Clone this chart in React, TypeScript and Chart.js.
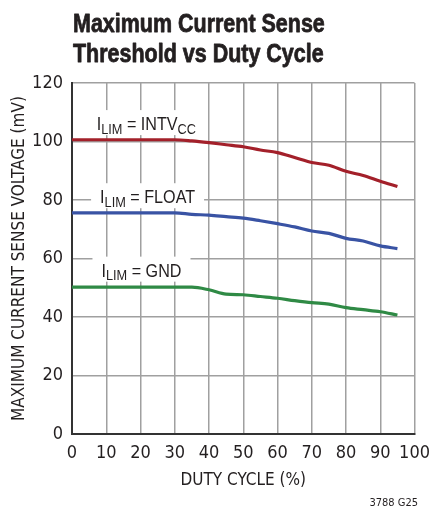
import React, { useEffect, useRef } from "react";
import { Chart, registerables } from "chart.js";

Chart.register(...registerables);

const AXIS_FONT = "'DejaVu Sans Condensed', 'Liberation Sans', sans-serif";
const TEXT_FONT = "'Liberation Sans', Arial, sans-serif";

const TITLE_LINES = ["Maximum Current Sense", "Threshold vs Duty Cycle"];
const X_TITLE = "DUTY CYCLE (%)";
const Y_TITLE = "MAXIMUM CURRENT SENSE VOLTAGE (mV)";
const FOOTNOTE = "3788 G25";

const X_TICKS = [0, 10, 20, 30, 40, 50, 60, 70, 80, 90, 100];
const Y_TICKS = [0, 20, 40, 60, 80, 100, 120];

const INTVCC_X = [0, 10, 20, 30, 35, 40, 45, 50, 55, 60, 65, 70, 75, 80, 85, 90, 95];
const INTVCC_Y = [100.6, 100.6, 100.6, 100.6, 100.2, 99.6, 98.9, 98.2, 97.1, 96.2, 94.5, 92.8, 91.9, 89.8, 88.4, 86.4, 84.6];

const FLOAT_X = [0, 10, 20, 30, 35, 40, 45, 50, 55, 60, 65, 70, 75, 80, 85, 90, 95];
const FLOAT_Y = [75.6, 75.6, 75.6, 75.6, 75.1, 74.8, 74.3, 73.8, 72.9, 71.9, 70.8, 69.4, 68.6, 66.9, 66.0, 64.3, 63.4];

const GND_X = [0, 10, 20, 30, 35, 40, 45, 50, 55, 60, 65, 70, 75, 80, 85, 90, 95];
const GND_Y = [50.2, 50.2, 50.2, 50.2, 50.2, 49.3, 47.8, 47.6, 47.0, 46.4, 45.6, 44.9, 44.4, 43.2, 42.5, 41.8, 40.7];

// label parts: [text, isSubscript], anchored at data (x, y baseline)
const LABELS = [
  { parts: [["I", false], ["LIM", true], [" = INTV", false], ["CC", true]], x: 7.2, y: 103.9 },
  { parts: [["I", false], ["LIM", true], [" = FLOAT", false]], x: 8.2, y: 78.9 },
  { parts: [["I", false], ["LIM", true], [" = GND", false]], x: 8.6, y: 53.8 },
];

const COLORS = ["#a3202a", "#3953a4", "#2f8a45"];

const CONDENSE = 0.85;
const TITLE_CONDENSE = 0.826;

function condensedText(ctx: CanvasRenderingContext2D, text: string, x: number, y: number, f: number, stroke = 0) {
  ctx.save();
  ctx.translate(x, y);
  ctx.scale(f, 1);
  if (stroke > 0) {
    ctx.lineWidth = stroke;
    ctx.lineJoin = "round";
    ctx.strokeStyle = ctx.fillStyle;
    ctx.strokeText(text, 0, 0);
  }
  ctx.fillText(text, 0, 0);
  ctx.restore();
  return ctx.measureText(text).width * f;
}

const overlayPlugin = {
  id: "overlay",
  afterDatasetsDraw(chart: any) {
    const ctx = chart.ctx as CanvasRenderingContext2D;
    const xs = chart.scales.x;
    const ys = chart.scales.y;
    ctx.save();
    ctx.textBaseline = "alphabetic";
    ctx.textAlign = "left";
    const mainFont = `19px ${TEXT_FONT}`;
    const subFont = `15px ${TEXT_FONT}`;
    for (const lab of LABELS) {
      let w = 0;
      for (const [t, sub] of lab.parts as [string, boolean][]) {
        ctx.font = sub ? subFont : mainFont;
        w += ctx.measureText(t).width * CONDENSE;
      }
      const x0 = xs.getPixelForValue(lab.x);
      const base = ys.getPixelForValue(lab.y);
      ctx.fillStyle = "#ffffff";
      ctx.fillRect(x0 - 9, base - 20, w + 18, 25);
      ctx.fillStyle = "#231f20";
      let x = x0;
      for (const [t, sub] of lab.parts as [string, boolean][]) {
        ctx.font = sub ? subFont : mainFont;
        x += condensedText(ctx, t, x, sub ? base + 3.5 : base, CONDENSE);
      }
    }
    ctx.restore();
  },
  afterDraw(chart: any) {
    const ctx = chart.ctx as CanvasRenderingContext2D;
    const area = chart.chartArea;
    ctx.save();
    ctx.fillStyle = "#231f20";
    ctx.textAlign = "left";
    ctx.textBaseline = "alphabetic";
    ctx.font = `bold 26px ${TEXT_FONT}`;
    condensedText(ctx, TITLE_LINES[0], area.left + 1, 32, TITLE_CONDENSE, 0.8);
    condensedText(ctx, TITLE_LINES[1], area.left + 1, 62, TITLE_CONDENSE, 0.8);
    ctx.font = `11px ${AXIS_FONT}`;
    ctx.textAlign = "right";
    ctx.fillText(FOOTNOTE, 418, 506);
    ctx.restore();
  },
};

function makeData(xs: number[], ys: number[]) {
  return xs.map((x, i) => ({ x, y: ys[i] }));
}

export default function App() {
  const ref = useRef<HTMLCanvasElement>(null);
  useEffect(() => {
    if (!ref.current) return;
    const series = [
      makeData(INTVCC_X, INTVCC_Y),
      makeData(FLOAT_X, FLOAT_Y),
      makeData(GND_X, GND_Y),
    ];
    const chart = new Chart(ref.current, {
      type: "line",
      data: {
        datasets: series.map((d, i) => ({
          data: d,
          borderColor: COLORS[i],
          borderWidth: 3.2,
          pointRadius: 0,
          fill: false,
          cubicInterpolationMode: "monotone" as const,
        })),
      },
      options: {
        animation: false,
        responsive: false,
        devicePixelRatio: 1,
        events: [],
        layout: { padding: { left: 0, right: 15, top: 83, bottom: 0 } },
        plugins: { legend: { display: false }, tooltip: { enabled: false }, title: { display: false } },
        scales: {
          x: {
            type: "linear",
            min: 0,
            max: 100,
            afterBuildTicks: (s: any) => {
              s.ticks = X_TICKS.map((v) => ({ value: v }));
            },
            afterFit: (s: any) => {
              s.height = 76;
            },
            ticks: { color: "#231f20", font: { family: AXIS_FONT, size: 18 }, padding: 9, maxRotation: 0 },
            grid: { color: "#a0a0a0", lineWidth: 1.5, drawTicks: false },
            border: { color: "#333333", width: 2 },
            title: { display: true, text: X_TITLE, color: "#231f20", font: { family: AXIS_FONT, size: 17 }, padding: { top: 0, bottom: 19 } },
          },
          y: {
            type: "linear",
            min: 0,
            max: 120,
            afterBuildTicks: (s: any) => {
              s.ticks = Y_TICKS.map((v) => ({ value: v }));
            },
            afterFit: (s: any) => {
              s.width = 72;
            },
            ticks: { color: "#231f20", font: { family: AXIS_FONT, size: 18 }, padding: 9 },
            grid: { color: "#a0a0a0", lineWidth: 1.5, drawTicks: false },
            border: { color: "#333333", width: 2 },
            title: { display: true, text: Y_TITLE, color: "#231f20", font: { family: AXIS_FONT, size: 17 }, padding: { top: 9, bottom: 0 } },
          },
        },
      },
      plugins: [overlayPlugin],
    } as any);
    return () => chart.destroy();
  }, []);
  return (
    <div style={{ position: "absolute", left: 0, top: 0, width: 439, height: 510, background: "#fff" }}>
      <canvas ref={ref} width={439} height={510} style={{ display: "block" }} />
    </div>
  );
}
